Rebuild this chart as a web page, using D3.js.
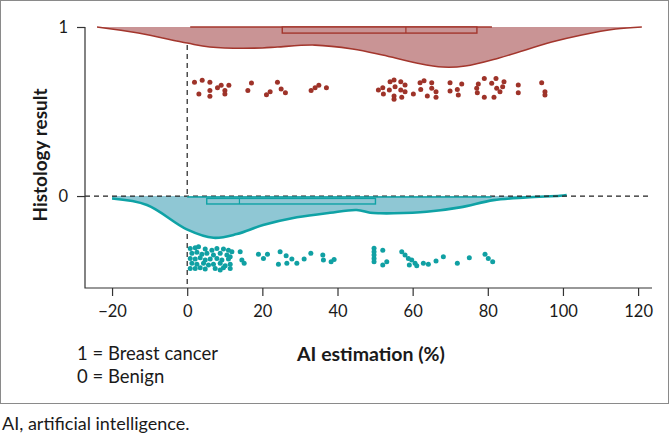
<!DOCTYPE html>
<html>
<head>
<meta charset="utf-8">
<script src="https://cdn.jsdelivr.net/npm/d3@7"></script>
<style>
  body { margin: 0; background: #fff; }
  svg text { font-family: Lato, "Open Sans", sans-serif; fill: #1a1a1a; }
</style>
</head>
<body>
<div id="chart"></div>
<script>
// density outlines (x = AI estimation, depth = drop below the group line)
const cancerDensX = [-24, -13, 0, 6, 20, 24, 34, 44, 52, 61, 68, 74, 83, 97, 105, 114, 121];
const cancerDensD = [0, 0.036, 0.095, 0.118, 0.124, 0.118, 0.107, 0.130, 0.166, 0.213, 0.237, 0.231, 0.183, 0.089, 0.047, 0.012, 0];
const benignDensX = [-20, -10.7, -0.1, 7, 13.2, 20.2, 29.2, 38, 45.1, 48.7, 51.3, 54.9, 63.7, 72.6, 81.5, 90.3, 99.2, 101];
const benignDensD = [0.015, 0.053, 0.197, 0.247, 0.225, 0.172, 0.126, 0.099, 0.083, 0.099, 0.102, 0.102, 0.093, 0.067, 0.024, 0.008, -0.002, -0.006];

// box plots: [whiskerLo, q1, median, q3, whiskerHi]
const cancerBox = [0.8, 25.3, 58.2, 77.1, 81.1];
const benignBox = [0, 5.2, 13.9, 50.1, 81];

// jittered raw points [x, y]
const cancerPts = [
  [1.94, 0.673], [3.99, 0.685], [6.04, 0.673], [3.11, 0.604], [6.04, 0.625], [6.04, 0.590],
  [8.06, 0.641], [9.04, 0.655], [10.03, 0.625], [10.03, 0.604], [11.09, 0.655], [17.10, 0.669],
  [16.14, 0.625], [24.02, 0.673], [22.07, 0.617], [21.09, 0.599], [25.0, 0.633], [26.14, 0.611],
  [32.98, 0.625], [34.04, 0.641], [35.03, 0.655], [37.05, 0.641],
  [50.88, 0.627], [52.05, 0.641], [52.21, 0.604], [53.99, 0.676], [53.80, 0.627], [55.05, 0.686],
  [55.32, 0.647], [55.05, 0.592], [55.05, 0.572], [56.84, 0.676], [56.84, 0.627], [57.10, 0.584],
  [57.98, 0.657], [57.98, 0.617], [60.19, 0.604], [61.97, 0.670], [62.15, 0.631], [63.03, 0.682],
  [63.91, 0.592], [65.08, 0.670], [65.08, 0.637], [66.22, 0.617], [66.22, 0.584], [69.95, 0.670],
  [69.95, 0.621], [71.89, 0.631], [72.15, 0.598], [73.06, 0.663], [77.05, 0.637], [77.21, 0.611],
  [77.47, 0.663], [79.07, 0.696], [79.07, 0.584], [81.04, 0.667], [81.65, 0.584], [82.18, 0.696],
  [82.37, 0.637], [83.24, 0.617], [83.96, 0.647], [84.31, 0.676], [88.11, 0.657], [88.11, 0.611],
  [94.34, 0.670], [95.21, 0.617], [95.21, 0.598]
];
const benignPts = [
  [0.80, -0.310], [2.13, -0.306], [3.01, -0.300], [4.79, -0.314], [6.57, -0.320], [7.90, -0.310],
  [9.65, -0.314], [10.98, -0.320], [11.89, -0.330], [1.25, -0.339], [2.58, -0.333], [3.91, -0.345],
  [5.24, -0.339], [6.99, -0.349], [8.78, -0.339], [10.56, -0.349], [11.44, -0.359], [0.80, -0.369],
  [2.13, -0.373], [3.46, -0.365], [4.79, -0.379], [6.12, -0.373], [7.90, -0.369], [9.23, -0.379],
  [10.98, -0.373], [1.25, -0.398], [2.58, -0.404], [4.34, -0.398], [5.66, -0.408], [6.99, -0.404],
  [8.78, -0.398], [10.11, -0.412], [11.44, -0.404], [0.80, -0.428], [2.13, -0.428], [3.46, -0.424],
  [4.79, -0.432], [7.45, -0.428], [9.65, -0.424], [11.44, -0.428], [8.78, -0.438],
  [14.10, -0.330], [14.55, -0.379], [15.16, -0.398], [18.96, -0.345], [20.29, -0.369], [21.36, -0.345],
  [24.73, -0.330], [24.28, -0.404], [26.33, -0.353], [26.52, -0.398], [27.85, -0.373], [29.18, -0.398],
  [31.12, -0.373], [32.90, -0.339], [36.09, -0.349], [36.25, -0.379], [38.30, -0.389], [39.10, -0.375],
  [49.73, -0.309], [49.73, -0.330], [49.73, -0.349], [49.73, -0.369], [49.73, -0.389], [52.05, -0.320],
  [52.05, -0.408], [53.11, -0.389], [57.10, -0.330], [57.98, -0.349], [58.86, -0.369], [59.76, -0.379],
  [59.12, -0.408], [60.64, -0.398], [61.09, -0.412], [62.85, -0.398], [64.18, -0.404], [66.22, -0.385],
  [68.17, -0.359], [71.89, -0.398], [75.08, -0.365], [79.26, -0.345], [80.13, -0.369], [81.30, -0.389]
];

const xTicks = [-20, 0, 20, 40, 60, 80, 100, 120];
const yTicks = [0, 1];

const red = {fill: "#c99495", line: "#a3362d", dot: "#9e3329"};
const teal = {fill: "#8fc7d4", line: "#0fa2a5", dot: "#10a0a3"};

const W = 670, H = 433;
const svg = d3.select("#chart").append("svg")
    .attr("width", W)
    .attr("height", H);

// outer frame
svg.append("rect")
    .attr("x", 0.5).attr("y", 0.5)
    .attr("width", 668).attr("height", 403)
    .attr("fill", "none")
    .attr("stroke", "#8a8a8a");

let x = d3.scaleLinear().domain([-27.2, 123.7]).range([85, 652]);
let y = d3.scaleLinear().domain([-0.544, 1]).range([288, 27]);

// vertical reference at 0 (under the densities)
svg.append("line")
    .attr("x1", x(0)).attr("x2", x(0))
    .attr("y1", y(1)).attr("y2", y(-0.544))
    .attr("stroke", "#222")
    .attr("stroke-width", 1.2)
    .attr("stroke-dasharray", "5,4");

function drawDensity(xs, ds, base, col, sw) {
    let pts = xs.map((v, i) => ({x: v, d: ds[i]}));
    let area = d3.area()
        .x(d => x(d.x))
        .y0(y(base))
        .y1(d => y(base - d.d))
        .curve(d3.curveCatmullRom);
    let line = d3.line()
        .x(d => x(d.x))
        .y(d => y(base - d.d))
        .curve(d3.curveCatmullRom);
    svg.append("path")
        .attr("d", area(pts))
        .attr("fill", col.fill);
    svg.append("path")
        .attr("d", line(pts))
        .attr("fill", "none")
        .attr("stroke", col.line)
        .attr("stroke-width", sw);
}

drawDensity(cancerDensX, cancerDensD, 1, red, 1.6);
drawDensity(benignDensX, benignDensD, 0, teal, 2.6);

// horizontal reference at 0 (over the teal density)
svg.append("line")
    .attr("x1", 85).attr("x2", 652)
    .attr("y1", y(0)).attr("y2", y(0))
    .attr("stroke", "#222")
    .attr("stroke-width", 1.2)
    .attr("stroke-dasharray", "5,4");

function drawBox(b, top, bottom, whiskY, col) {
    svg.append("line")
        .attr("x1", x(b[0])).attr("x2", x(b[4]))
        .attr("y1", y(whiskY)).attr("y2", y(whiskY))
        .attr("stroke", col.line)
        .attr("stroke-width", 1.6);
    svg.append("rect")
        .attr("x", x(b[1]))
        .attr("y", y(top))
        .attr("width", x(b[3]) - x(b[1]))
        .attr("height", y(bottom) - y(top))
        .attr("fill", col.fill)
        .attr("stroke", col.line)
        .attr("stroke-width", 1.4);
    svg.append("line")
        .attr("x1", x(b[2])).attr("x2", x(b[2]))
        .attr("y1", y(top)).attr("y2", y(bottom))
        .attr("stroke", col.line)
        .attr("stroke-width", 1.2);
}

drawBox(cancerBox, 1, 0.964, 1, red);
drawBox(benignBox, -0.014, -0.047, -0.006, teal);

svg.append("g").selectAll("circle")
    .data(cancerPts)
    .join("circle")
    .attr("cx", d => x(d[0]))
    .attr("cy", d => y(d[1]))
    .attr("r", 2.5)
    .attr("fill", red.dot);

svg.append("g").selectAll("circle")
    .data(benignPts)
    .join("circle")
    .attr("cx", d => x(d[0]))
    .attr("cy", d => y(d[1]))
    .attr("r", 2.5)
    .attr("fill", teal.dot);

// spines
svg.append("path")
    .attr("d", `M85,${y(1)}V288H652`)
    .attr("fill", "none")
    .attr("stroke", "#333")
    .attr("stroke-width", 1.2);

let xAxis = svg.append("g")
    .attr("transform", "translate(0,288)")
    .call(d3.axisBottom(x).tickValues(xTicks).tickSize(8).tickPadding(9));
xAxis.select(".domain").remove();
xAxis.selectAll("line").attr("stroke", "#333").attr("stroke-width", 1.2);
xAxis.selectAll("text").style("font-size", "16.5px").attr("fill", "#1a1a1a");

let yAxis = svg.append("g")
    .attr("transform", "translate(85,0)")
    .call(d3.axisLeft(y).tickValues(yTicks).tickFormat(d3.format("d")).tickSize(8).tickPadding(9));
yAxis.select(".domain").remove();
yAxis.selectAll("line").attr("stroke", "#333").attr("stroke-width", 1.2);
yAxis.selectAll("text").style("font-size", "16.5px").attr("fill", "#1a1a1a");

// titles
svg.append("text")
    .attr("x", 371).attr("y", 361)
    .attr("text-anchor", "middle")
    .style("font-size", "19.5px")
    .style("font-weight", "bold")
    .text("AI estimation (%)");

svg.append("text")
    .attr("transform", "translate(47,155) rotate(-90)")
    .attr("text-anchor", "middle")
    .style("font-size", "19px")
    .style("font-weight", "bold")
    .text("Histology result");

svg.append("text")
    .attr("x", 77).attr("y", 360)
    .style("font-size", "18.5px")
    .text("1 = Breast cancer");

svg.append("text")
    .attr("x", 77).attr("y", 383)
    .style("font-size", "18.5px")
    .text("0 = Benign");

svg.append("text")
    .attr("x", 2).attr("y", 430)
    .style("font-size", "18px")
    .attr("fill", "#333")
    .text("AI, artificial intelligence.");
</script>
</body>
</html>
